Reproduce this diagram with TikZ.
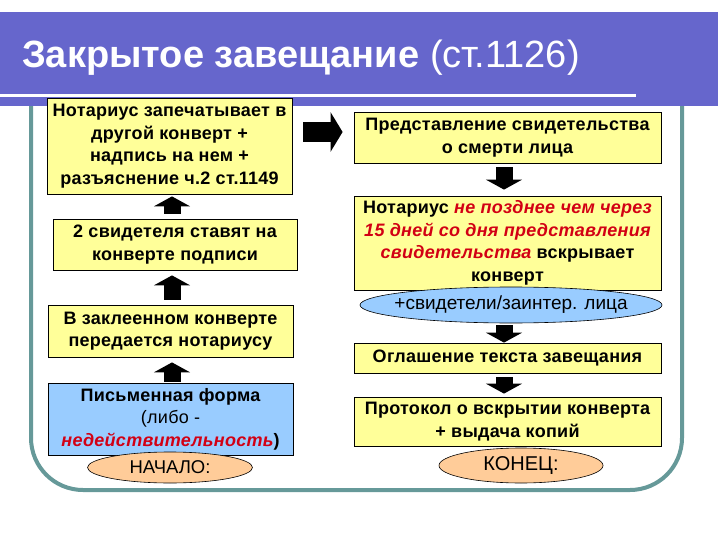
\documentclass[tikz,border=0pt]{standalone}
\usepackage{fontspec}
\setmainfont{Liberation Sans}
\newfontfamily\boxfont[LetterSpace=1.5]{Liberation Sans}
\usetikzlibrary{arrows.meta, positioning, calc, shapes.geometric}
\definecolor{SlideBlue}{RGB}{102,102,204}
\definecolor{FrameTeal}{RGB}{102,153,153}
\definecolor{NoteYellow}{RGB}{255,255,153}
\definecolor{NoteBlue}{RGB}{153,204,255}
\definecolor{NotePeach}{RGB}{255,204,153}
\definecolor{NoteRed}{RGB}{210,0,20}
\newcommand{\redit}[1]{{\color{NoteRed}\itshape #1}}

\begin{document}
\begin{tikzpicture}[x=1pt,y=-1pt,
  stepbox/.style={draw=black, line width=0.8pt, fill=NoteYellow, align=center,
    inner sep=0pt, font=\boxfont\fontsize{18}{22.5}\selectfont\bfseries},
  formbox/.style={stepbox, fill=NoteBlue},
  oval/.style={ellipse, draw=black, line width=0.6pt, inner sep=0pt},
  blockup/.style={line width=17pt, -{Triangle[width=36pt,length=10pt]}},
  blockright/.style={line width=20pt, -{Triangle[width=39pt,length=12pt]}}]
  \path[use as bounding box] (0,0) rectangle (720,540);
  \fill[white] (0,0) rectangle (720,540);
  % frame and title band
  \draw[FrameTeal, line width=4pt, rounded corners=52pt] (31,60) -- (31,490) -- (682,490) -- (682,60);
  \fill[SlideBlue] (0,12) rectangle (718,106);
  \draw[white, line width=3pt] (0,96) -- (636,96);
  \node[anchor=base west, text=white, inner sep=0pt, font=\fontsize{38}{40}\selectfont] (title) at (22,68)
    {\bfseries Закрытое завещание \mdseries(ст.1126)};

  % left column
  \node[stepbox, minimum width=245pt, minimum height=96pt] (seal) at (169.5,146)
    {Нотариус запечатывает в\\другой конверт +\\надпись на нем +\\разъяснение ч.2 ст.1149};
  \node[stepbox, minimum width=244pt, minimum height=51pt] (sign) at (175,244.5)
    {2 свидетеля ставят на\\конверте подписи};
  \node[stepbox, minimum width=245pt, minimum height=52pt] (hand) at (170.5,331)
    {В заклеенном конверте\\передается нотариусу};
  \node[formbox, minimum width=245pt, minimum height=72pt] (form) at (170.5,419)
    {Письменная форма\\\mdseries(либо -\\\redit{\bfseries недействительность})};
  \node[oval, fill=NotePeach, minimum width=165pt, minimum height=31pt,
    font=\fontsize{18.5}{20}\selectfont] (start) at (170,467.5) {НАЧАЛО:};

  % right column
  \node[stepbox, minimum width=307pt, minimum height=51pt] (cert) at (507.5,137.5)
    {Представление свидетельства\\о смерти лица};
  \node[stepbox, minimum width=307pt, minimum height=94pt] (open) at (507.5,243)
    {Нотариус \redit{не позднее чем через}\\\redit{15 дней со дня представления}\\\redit{свидетельства} вскрывает\\конверт};
  \node[oval, fill=NoteBlue, minimum width=302pt, minimum height=36pt,
    font=\fontsize{19}{20}\selectfont] (wit) at (511,305) {\makebox[0pt]{+свидетели/заинтер. лица}};
  \node[stepbox, minimum width=307pt, minimum height=30pt] (read) at (507.5,358)
    {Оглашение текста завещания};
  \node[stepbox, minimum width=307pt, minimum height=49pt] (prot) at (507.5,421.5)
    {Протокол о вскрытии конверта\\+ выдача копий};
  \node[oval, fill=NotePeach, minimum width=164pt, minimum height=35pt,
    font=\fontsize{20}{22}\selectfont] (end) at (521,465.5) {КОНЕЦ:};

  % block arrows
  \coordinate (lcol) at (172,0);
  \coordinate (rcol) at (504,0);
  \coordinate (harr) at (0,132);
  \draw[blockup, shorten <=5pt, shorten >=2pt] (lcol |- sign.north) -- (lcol |- seal.south);
  \draw[blockup, shorten <=5pt, shorten >=5pt] (lcol |- hand.north) -- (lcol |- sign.south);
  \draw[blockup, shorten <=1pt, shorten >=5pt] (lcol |- form.north) -- (lcol |- hand.south);
  \draw[blockright, shorten <=11pt, shorten >=11pt] (seal.east |- harr) -- (cert.west |- harr);
  \draw[blockup, shorten <=4pt, shorten >=6pt] (rcol |- cert.south) -- (rcol |- open.north);
  \draw[blockup, shorten <=2pt] (rcol |- wit.south) -- (rcol |- read.north);
  \draw[blockup, shorten <=4pt, shorten >=3pt] (rcol |- read.south) -- (rcol |- prot.north);
\end{tikzpicture}
\end{document}
